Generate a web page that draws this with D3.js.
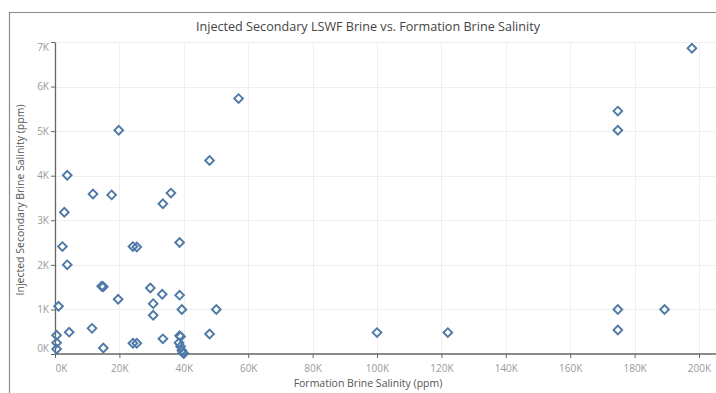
<!DOCTYPE html>
<html>
<head>
<meta charset="utf-8">
<script src="https://cdn.jsdelivr.net/npm/d3@7"></script>
<style>
  html, body { margin: 0; padding: 0; background: #fff; }
  svg { display: block; }
  text { font-family: "Open Sans", "Noto Sans", sans-serif; }
</style>
</head>
<body>
<svg id="chart" width="716" height="393"></svg>
<script>
// Formation brine salinity (ppm) for each well / test
const formationSalinity = [
  197800, 57000, 174800, 174800, 19800, 48000, 3800, 11800, 17600, 36000,
  33500, 2900, 38700, 2300, 24200, 25400, 3800, 14500, 15000, 29600,
  33300, 38700, 19600, 30500, 1100, 39400, 50100, 30500, 11500, 4400,
  48000, 500, 38700, 39000, 33500, 500, 24200, 25400, 38500, 15000,
  500, 39000, 39400, 39700, 40000, 100000, 122000, 174800, 189300, 174800
];
// Injected secondary LSWF brine salinity (ppm), same order
const injectedSalinity = [
  6860, 5730, 5450, 5020, 5020, 4340, 4010, 3590, 3570, 3610,
  3370, 3180, 2500, 2410, 2410, 2400, 2000, 1520, 1510, 1480,
  1340, 1320, 1230, 1130, 1070, 1000, 1000, 870, 575, 490,
  450, 420, 410, 390, 340, 250, 240, 240, 250, 135,
  110, 170, 80, 30, 10, 480, 480, 1000, 1000, 540
];
const xTicks = [0, 20000, 40000, 60000, 80000, 100000, 120000, 140000, 160000, 180000, 200000];
const yTicks = [0, 1000, 2000, 3000, 4000, 5000, 6000, 7000];
const kFormat = v => (v / 1000) + "K";

const points = formationSalinity.map((f, i) => ({ f, inj: injectedSalinity[i] }));

const W = 716, H = 393;
const plot = { left: 55, right: 716, top: 42, bottom: 354 };

const svg = d3.select("#chart");

// Outer frame of the worksheet
svg.append("path")
  .attr("d", `M9.5,${H} V12.5 H${W}`)
  .attr("fill", "none")
  .attr("stroke", "#8c8c8c")
  .attr("stroke-width", 1.2);

svg.append("text")
  .attr("x", 368).attr("y", 31)
  .attr("text-anchor", "middle")
  .attr("font-size", 13.5)
  .attr("fill", "#444")
  .attr("textLength", 344)
  .attr("lengthAdjust", "spacingAndGlyphs")
  .text("Injected Secondary LSWF Brine vs. Formation Brine Salinity");

const x = d3.scaleLinear().domain([0, 200000]).range([plot.left, 699]);
const y = d3.scaleLinear().domain([0, 7000]).range([plot.bottom, plot.top]);

// Grid lines
const grid = svg.append("g").attr("stroke", "#efefef").attr("stroke-width", 1);
grid.selectAll("line.gx").data(xTicks.slice(1)).join("line")
  .attr("x1", d => Math.round(x(d)) + 0.5).attr("x2", d => Math.round(x(d)) + 0.5)
  .attr("y1", plot.top).attr("y2", plot.bottom);
grid.selectAll("line.gy").data(yTicks.slice(1)).join("line")
  .attr("y1", d => Math.round(y(d)) + 0.5).attr("y2", d => Math.round(y(d)) + 0.5)
  .attr("x1", plot.left).attr("x2", plot.right);

// X axis
const xAxis = svg.append("g")
  .attr("transform", `translate(0,${plot.bottom})`)
  .call(d3.axisBottom(x).tickValues(xTicks).tickFormat(kFormat).tickSize(4).tickSizeOuter(0));
xAxis.select(".domain").remove();
xAxis.append("line").attr("x1", plot.left).attr("x2", plot.right)
  .attr("stroke", "#666").attr("stroke-width", 1.3);
xAxis.selectAll(".tick line").attr("stroke", "#666");
xAxis.selectAll(".tick text")
  .attr("fill", "#9a9a9a").attr("font-size", 10).attr("dy", "1.05em")
  .attr("dx", d => d === 0 ? 6 : 0);

// Y axis
const yAxis = svg.append("g")
  .attr("transform", `translate(${plot.left},0)`)
  .call(d3.axisLeft(y).tickValues(yTicks).tickFormat(kFormat).tickSize(4).tickSizeOuter(0));
yAxis.select(".domain").attr("stroke", "#666").attr("stroke-width", 1.3);
yAxis.selectAll(".tick line").attr("stroke", "#666");
yAxis.selectAll(".tick text")
  .attr("fill", "#9a9a9a").attr("font-size", 10).attr("x", -6)
  .attr("dy", d => d === 0 ? "-0.3em" : d === 7000 ? "0.85em" : "0.32em");

// Axis titles
svg.append("text")
  .attr("x", 368).attr("y", 387)
  .attr("text-anchor", "middle").attr("font-size", 10.5).attr("fill", "#555")
  .text("Formation Brine Salinity (ppm)");
svg.append("text")
  .attr("transform", `translate(24,${(plot.top + plot.bottom) / 2 + 2}) rotate(-90)`)
  .attr("text-anchor", "middle").attr("font-size", 10.5).attr("fill", "#555")
  .text("Injected Secondary Brine Salinity (ppm)");

// Hollow diamond markers
const diamond = d3.symbol().type(d3.symbolSquare).size(38);
svg.append("g").selectAll("path").data(points).join("path")
  .attr("d", diamond)
  .attr("transform", d => `translate(${x(d.f)},${y(d.inj)}) rotate(45)`)
  .attr("fill", "none")
  .attr("stroke", "#4e79a7")
  .attr("stroke-width", 1.9);
</script>
</body>
</html>
